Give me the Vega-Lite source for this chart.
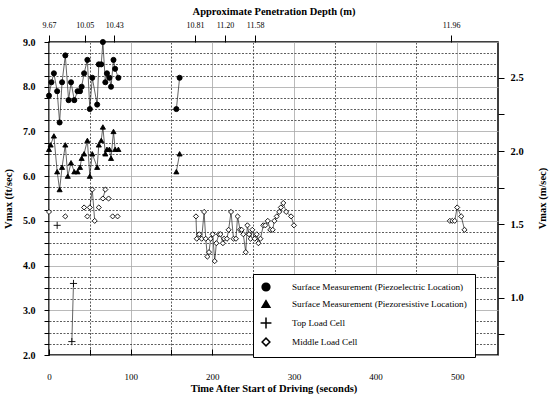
{
 "$schema": "https://vega.github.io/schema/vega-lite/v6.json",
 "width": 449,
 "height": 313,
 "autosize": "none",
 "padding": {"left": 49, "top": 42, "right": 52, "bottom": 41},
 "background": "white",
 "config": {
  "font": "Liberation Serif",
  "view": {"stroke": "black", "strokeWidth": 1.5},
  "axis": {"labelColor": "black", "titleColor": "black", "tickColor": "black", "domain": false, "labelOverlap": false, "labelFlush": false}
 },
 "layer": [
  {
   "data": {"values": [
    {"series": "Surface Measurement (Piezoelectric Location)", "seg": "A1", "t": 0, "v": 7.8},
    {"series": "Surface Measurement (Piezoelectric Location)", "seg": "A1", "t": 3, "v": 8.1},
    {"series": "Surface Measurement (Piezoelectric Location)", "seg": "A1", "t": 6, "v": 8.3},
    {"series": "Surface Measurement (Piezoelectric Location)", "seg": "A1", "t": 10, "v": 7.9},
    {"series": "Surface Measurement (Piezoelectric Location)", "seg": "A1", "t": 13, "v": 7.2},
    {"series": "Surface Measurement (Piezoelectric Location)", "seg": "A1", "t": 16, "v": 8.1},
    {"series": "Surface Measurement (Piezoelectric Location)", "seg": "A1", "t": 20, "v": 8.7},
    {"series": "Surface Measurement (Piezoelectric Location)", "seg": "A1", "t": 24, "v": 7.7},
    {"series": "Surface Measurement (Piezoelectric Location)", "seg": "A1", "t": 27, "v": 8.1},
    {"series": "Surface Measurement (Piezoelectric Location)", "seg": "A1", "t": 31, "v": 7.7},
    {"series": "Surface Measurement (Piezoelectric Location)", "seg": "A1", "t": 35, "v": 7.9},
    {"series": "Surface Measurement (Piezoelectric Location)", "seg": "A1", "t": 38, "v": 7.9},
    {"series": "Surface Measurement (Piezoelectric Location)", "seg": "A1", "t": 40, "v": 8.0},
    {"series": "Surface Measurement (Piezoelectric Location)", "seg": "A1", "t": 43, "v": 8.3},
    {"series": "Surface Measurement (Piezoelectric Location)", "seg": "A1", "t": 47, "v": 8.6},
    {"series": "Surface Measurement (Piezoelectric Location)", "seg": "A1", "t": 50, "v": 7.5},
    {"series": "Surface Measurement (Piezoelectric Location)", "seg": "A1", "t": 53, "v": 8.2},
    {"series": "Surface Measurement (Piezoelectric Location)", "seg": "A1", "t": 59, "v": 7.6},
    {"series": "Surface Measurement (Piezoelectric Location)", "seg": "A1", "t": 61, "v": 8.5},
    {"series": "Surface Measurement (Piezoelectric Location)", "seg": "A1", "t": 64, "v": 8.5},
    {"series": "Surface Measurement (Piezoelectric Location)", "seg": "A1", "t": 66, "v": 9.0},
    {"series": "Surface Measurement (Piezoelectric Location)", "seg": "A1", "t": 69, "v": 8.1},
    {"series": "Surface Measurement (Piezoelectric Location)", "seg": "A1", "t": 71, "v": 8.3},
    {"series": "Surface Measurement (Piezoelectric Location)", "seg": "A1", "t": 74, "v": 8.2},
    {"series": "Surface Measurement (Piezoelectric Location)", "seg": "A1", "t": 76, "v": 8.0},
    {"series": "Surface Measurement (Piezoelectric Location)", "seg": "A1", "t": 79, "v": 8.6},
    {"series": "Surface Measurement (Piezoelectric Location)", "seg": "A1", "t": 81, "v": 8.4},
    {"series": "Surface Measurement (Piezoelectric Location)", "seg": "A1", "t": 85, "v": 8.2},
    {"series": "Surface Measurement (Piezoelectric Location)", "seg": "A2", "t": 156, "v": 7.5},
    {"series": "Surface Measurement (Piezoelectric Location)", "seg": "A2", "t": 160, "v": 8.2},
    {"series": "Surface Measurement (Piezoresistive Location)", "seg": "B1", "t": 0, "v": 6.6},
    {"series": "Surface Measurement (Piezoresistive Location)", "seg": "B1", "t": 2, "v": 6.7},
    {"series": "Surface Measurement (Piezoresistive Location)", "seg": "B1", "t": 6, "v": 6.9},
    {"series": "Surface Measurement (Piezoresistive Location)", "seg": "B1", "t": 10, "v": 6.1},
    {"series": "Surface Measurement (Piezoresistive Location)", "seg": "B1", "t": 13, "v": 5.7},
    {"series": "Surface Measurement (Piezoresistive Location)", "seg": "B1", "t": 16, "v": 6.2},
    {"series": "Surface Measurement (Piezoresistive Location)", "seg": "B1", "t": 20, "v": 6.7},
    {"series": "Surface Measurement (Piezoresistive Location)", "seg": "B1", "t": 23, "v": 6.0},
    {"series": "Surface Measurement (Piezoresistive Location)", "seg": "B1", "t": 27, "v": 6.3},
    {"series": "Surface Measurement (Piezoresistive Location)", "seg": "B1", "t": 31, "v": 6.1},
    {"series": "Surface Measurement (Piezoresistive Location)", "seg": "B1", "t": 35, "v": 6.1},
    {"series": "Surface Measurement (Piezoresistive Location)", "seg": "B1", "t": 38, "v": 6.2},
    {"series": "Surface Measurement (Piezoresistive Location)", "seg": "B1", "t": 40, "v": 6.4},
    {"series": "Surface Measurement (Piezoresistive Location)", "seg": "B1", "t": 43, "v": 6.5},
    {"series": "Surface Measurement (Piezoresistive Location)", "seg": "B1", "t": 47, "v": 6.8},
    {"series": "Surface Measurement (Piezoresistive Location)", "seg": "B1", "t": 50, "v": 6.0},
    {"series": "Surface Measurement (Piezoresistive Location)", "seg": "B1", "t": 53, "v": 6.5},
    {"series": "Surface Measurement (Piezoresistive Location)", "seg": "B1", "t": 59, "v": 6.2},
    {"series": "Surface Measurement (Piezoresistive Location)", "seg": "B1", "t": 61, "v": 6.7},
    {"series": "Surface Measurement (Piezoresistive Location)", "seg": "B1", "t": 64, "v": 6.8},
    {"series": "Surface Measurement (Piezoresistive Location)", "seg": "B1", "t": 66, "v": 7.1},
    {"series": "Surface Measurement (Piezoresistive Location)", "seg": "B1", "t": 69, "v": 6.5},
    {"series": "Surface Measurement (Piezoresistive Location)", "seg": "B1", "t": 71, "v": 6.6},
    {"series": "Surface Measurement (Piezoresistive Location)", "seg": "B1", "t": 74, "v": 6.6},
    {"series": "Surface Measurement (Piezoresistive Location)", "seg": "B1", "t": 76, "v": 6.4},
    {"series": "Surface Measurement (Piezoresistive Location)", "seg": "B1", "t": 79, "v": 7.0},
    {"series": "Surface Measurement (Piezoresistive Location)", "seg": "B1", "t": 81, "v": 6.6},
    {"series": "Surface Measurement (Piezoresistive Location)", "seg": "B1", "t": 85, "v": 6.6},
    {"series": "Surface Measurement (Piezoresistive Location)", "seg": "B2", "t": 156, "v": 6.1},
    {"series": "Surface Measurement (Piezoresistive Location)", "seg": "B2", "t": 160, "v": 6.5},
    {"series": "Top Load Cell", "seg": "C1", "t": 10, "v": 4.9},
    {"series": "Top Load Cell", "seg": "C2", "t": 28, "v": 2.3},
    {"series": "Top Load Cell", "seg": "C2", "t": 30, "v": 3.6},
    {"series": "Middle Load Cell", "seg": "D1", "t": 0, "v": 5.2},
    {"series": "Middle Load Cell", "seg": "D2", "t": 20, "v": 5.1},
    {"series": "Middle Load Cell", "seg": "D3", "t": 43, "v": 5.3},
    {"series": "Middle Load Cell", "seg": "D4", "t": 47, "v": 5.1},
    {"series": "Middle Load Cell", "seg": "D5", "t": 50, "v": 5.3},
    {"series": "Middle Load Cell", "seg": "D5", "t": 53, "v": 5.7},
    {"series": "Middle Load Cell", "seg": "D5", "t": 56, "v": 5.0},
    {"series": "Middle Load Cell", "seg": "D6", "t": 61, "v": 5.3},
    {"series": "Middle Load Cell", "seg": "D7", "t": 66, "v": 5.5},
    {"series": "Middle Load Cell", "seg": "D7", "t": 69, "v": 5.7},
    {"series": "Middle Load Cell", "seg": "D8", "t": 73, "v": 5.5},
    {"series": "Middle Load Cell", "seg": "D9", "t": 78, "v": 5.1},
    {"series": "Middle Load Cell", "seg": "D10", "t": 84, "v": 5.1},
    {"series": "Middle Load Cell", "seg": "E1", "t": 180, "v": 5.1},
    {"series": "Middle Load Cell", "seg": "E1", "t": 181, "v": 4.6},
    {"series": "Middle Load Cell", "seg": "E1", "t": 184, "v": 4.7},
    {"series": "Middle Load Cell", "seg": "E1", "t": 187, "v": 4.6},
    {"series": "Middle Load Cell", "seg": "E1", "t": 190, "v": 5.2},
    {"series": "Middle Load Cell", "seg": "E1", "t": 192, "v": 4.6},
    {"series": "Middle Load Cell", "seg": "E1", "t": 194, "v": 4.2},
    {"series": "Middle Load Cell", "seg": "E1", "t": 196, "v": 4.3},
    {"series": "Middle Load Cell", "seg": "E1", "t": 198, "v": 4.6},
    {"series": "Middle Load Cell", "seg": "E1", "t": 200.5, "v": 4.7},
    {"series": "Middle Load Cell", "seg": "E1", "t": 203, "v": 4.1},
    {"series": "Middle Load Cell", "seg": "E1", "t": 205, "v": 4.5},
    {"series": "Middle Load Cell", "seg": "E1", "t": 208, "v": 4.7},
    {"series": "Middle Load Cell", "seg": "E1", "t": 210, "v": 4.7},
    {"series": "Middle Load Cell", "seg": "E1", "t": 213, "v": 4.5},
    {"series": "Middle Load Cell", "seg": "E1", "t": 214.5, "v": 4.6},
    {"series": "Middle Load Cell", "seg": "E1", "t": 218, "v": 4.6},
    {"series": "Middle Load Cell", "seg": "E1", "t": 220, "v": 4.8},
    {"series": "Middle Load Cell", "seg": "E1", "t": 223, "v": 5.2},
    {"series": "Middle Load Cell", "seg": "E1", "t": 226, "v": 4.6},
    {"series": "Middle Load Cell", "seg": "E1", "t": 229, "v": 4.6},
    {"series": "Middle Load Cell", "seg": "E1", "t": 231, "v": 5.1},
    {"series": "Middle Load Cell", "seg": "E1", "t": 234, "v": 4.8},
    {"series": "Middle Load Cell", "seg": "E1", "t": 236, "v": 4.8},
    {"series": "Middle Load Cell", "seg": "E1", "t": 238, "v": 4.7},
    {"series": "Middle Load Cell", "seg": "E1", "t": 241, "v": 4.3},
    {"series": "Middle Load Cell", "seg": "E1", "t": 243, "v": 4.9},
    {"series": "Middle Load Cell", "seg": "E1", "t": 245, "v": 4.7},
    {"series": "Middle Load Cell", "seg": "E1", "t": 247, "v": 4.6},
    {"series": "Middle Load Cell", "seg": "E1", "t": 249, "v": 4.8},
    {"series": "Middle Load Cell", "seg": "E1", "t": 252, "v": 4.6},
    {"series": "Middle Load Cell", "seg": "E1", "t": 254.5, "v": 4.7},
    {"series": "Middle Load Cell", "seg": "E1", "t": 256.5, "v": 4.5},
    {"series": "Middle Load Cell", "seg": "E1", "t": 259, "v": 4.6},
    {"series": "Middle Load Cell", "seg": "E1", "t": 262.5, "v": 4.9},
    {"series": "Middle Load Cell", "seg": "E1", "t": 265, "v": 4.9},
    {"series": "Middle Load Cell", "seg": "E1", "t": 268, "v": 5.0},
    {"series": "Middle Load Cell", "seg": "E1", "t": 271, "v": 4.8},
    {"series": "Middle Load Cell", "seg": "E1", "t": 274, "v": 4.8},
    {"series": "Middle Load Cell", "seg": "E1", "t": 276, "v": 5.0},
    {"series": "Middle Load Cell", "seg": "E1", "t": 279, "v": 5.1},
    {"series": "Middle Load Cell", "seg": "E1", "t": 282, "v": 5.2},
    {"series": "Middle Load Cell", "seg": "E1", "t": 284, "v": 5.3},
    {"series": "Middle Load Cell", "seg": "E1", "t": 287, "v": 5.4},
    {"series": "Middle Load Cell", "seg": "E1", "t": 290.5, "v": 5.2},
    {"series": "Middle Load Cell", "seg": "E1", "t": 296.5, "v": 5.1},
    {"series": "Middle Load Cell", "seg": "E1", "t": 300, "v": 4.9},
    {"series": "Middle Load Cell", "seg": "F1", "t": 491, "v": 5.0},
    {"series": "Middle Load Cell", "seg": "F1", "t": 494, "v": 5.0},
    {"series": "Middle Load Cell", "seg": "F1", "t": 497, "v": 5.0},
    {"series": "Middle Load Cell", "seg": "F1", "t": 500, "v": 5.3},
    {"series": "Middle Load Cell", "seg": "F1", "t": 505, "v": 5.1},
    {"series": "Middle Load Cell", "seg": "F1", "t": 509, "v": 4.8}
   ]},
   "encoding": {
    "x": {"field": "t", "type": "quantitative", "scale": {"domain": [0, 550], "nice": false, "zero": false},
     "axis": {
      "title": "Time After Start of Driving (seconds)",
      "values": [0, 50, 100, 150, 200, 250, 300, 350, 400, 450, 500],
      "labelExpr": "datum.value % 100 == 0 ? datum.value : ''",
      "tickSize": -6, "labelPadding": 23, "labelFontSize": 9,
      "titleFontSize": 10.5, "titleFontWeight": "bold", "titlePadding": 2,
      "grid": true,
      "gridColor": {"condition": {"test": "datum.value % 100 == 0", "value": "#a8a8a8"}, "value": "#333"},
      "gridDash": {"condition": {"test": "datum.value % 100 == 0", "value": []}, "value": [2, 1.5]},
      "gridWidth": 0.8
     }},
    "y": {"field": "v", "type": "quantitative", "scale": {"domain": [2, 9], "nice": false, "zero": false},
     "axis": {
      "title": "Vmax (ft/sec)",
      "values": [2, 2.25, 2.5, 2.75, 3, 3.25, 3.5, 3.75, 4, 4.25, 4.5, 4.75, 5, 5.25, 5.5, 5.75, 6, 6.25, 6.5, 6.75, 7, 7.25, 7.5, 7.75, 8, 8.25, 8.5, 8.75, 9],
      "labelExpr": "datum.value % 1 == 0 ? format(datum.value, '.1f') : ''",
      "tickSize": 5, "labelPadding": 9, "labelFontSize": 10, "labelFontWeight": "bold",
      "titleFontSize": 10.5, "titleFontWeight": "bold", "titlePadding": 9,
      "grid": true,
      "gridColor": {"condition": {"test": "datum.value % 1 == 0", "value": "#a8a8a8"}, "value": "#333"},
      "gridDash": {"condition": {"test": "datum.value % 1 == 0", "value": []}, "value": [2, 1.5]},
      "gridWidth": 0.8
     }}
   },
   "layer": [
    {
     "mark": {"type": "line", "color": "#222", "strokeWidth": 0.7},
     "encoding": {"detail": {"field": "seg", "type": "nominal"}}
    },
    {
     "mark": {"type": "point", "filled": true, "strokeWidth": 0.9, "size": 26, "opacity": 1},
     "encoding": {
      "shape": {"field": "series", "type": "nominal",
       "scale": {"domain": ["Surface Measurement (Piezoelectric Location)", "Surface Measurement (Piezoresistive Location)", "Top Load Cell", "Middle Load Cell"],
        "range": ["circle", "triangle-up", "M-1.4,0H1.4M0,-1.4V1.4", "diamond"]},
       "legend": {"orient": "none", "legendX": 204, "legendY": 232, "title": null, "strokeColor": "black", "fillColor": "white", "padding": 8, "symbolSize": 60, "labelFontSize": 9.2, "labelColor": "black", "labelLimit": 400, "rowPadding": 3, "labelOffset": 21}},
      "fill": {"field": "series", "type": "nominal",
       "scale": {"domain": ["Surface Measurement (Piezoelectric Location)", "Surface Measurement (Piezoresistive Location)", "Top Load Cell", "Middle Load Cell"],
        "range": ["black", "black", "black", "white"]},
       "legend": {"orient": "none", "legendX": 204, "legendY": 232, "title": null, "strokeColor": "black", "fillColor": "white", "padding": 8, "symbolSize": 60, "labelFontSize": 9.2, "labelColor": "black", "labelLimit": 400, "rowPadding": 3, "labelOffset": 21}},
      "stroke": {"field": "series", "type": "nominal",
       "scale": {"domain": ["Surface Measurement (Piezoelectric Location)", "Surface Measurement (Piezoresistive Location)", "Top Load Cell", "Middle Load Cell"],
        "range": ["black", "black", "black", "black"]},
       "legend": {"orient": "none", "legendX": 204, "legendY": 232, "title": null, "strokeColor": "black", "fillColor": "white", "padding": 8, "symbolSize": 60, "labelFontSize": 9.2, "labelColor": "black", "labelLimit": 400, "rowPadding": 3, "labelOffset": 21}}
     }
    },
    {
     "data": {"values": [{}]},
     "mark": {"type": "rect", "fill": "white", "stroke": "#555", "strokeWidth": 0.8},
     "encoding": {
      "x": {"datum": 297.4, "type": "quantitative"},
      "x2": {"datum": 503},
      "y": {"datum": 8.476, "type": "quantitative"},
      "y2": {"datum": 7.537}
     }
    },
    {
     "data": {"values": [{}]},
     "mark": {"type": "text", "align": "left", "baseline": "middle", "fontSize": 8.6, "color": "black"},
     "encoding": {
      "x": {"datum": 309.7, "type": "quantitative"},
      "y": {"datum": 8.16, "type": "quantitative"},
      "text": {"value": "NOTE:"}
     }
    },
    {
     "data": {"values": [{}]},
     "mark": {"type": "text", "align": "left", "baseline": "middle", "fontSize": 8.6, "color": "black"},
     "encoding": {
      "x": {"datum": 347.7, "type": "quantitative"},
      "y": {"datum": 8.16, "type": "quantitative"},
      "text": {"value": "Only velocities recorded between"}
     }
    },
    {
     "data": {"values": [{}]},
     "mark": {"type": "text", "align": "left", "baseline": "middle", "fontSize": 8.6, "color": "black"},
     "encoding": {
      "x": {"datum": 347.7, "type": "quantitative"},
      "y": {"datum": 7.93, "type": "quantitative"},
      "text": {"value": "0.305 and 2.743 m/s (1 and 9 ft/s)"}
     }
    },
    {
     "data": {"values": [{}]},
     "mark": {"type": "text", "align": "left", "baseline": "middle", "fontSize": 8.6, "color": "black"},
     "encoding": {
      "x": {"datum": 347.7, "type": "quantitative"},
      "y": {"datum": 7.72, "type": "quantitative"},
      "text": {"value": "are shown."}
     }
    }
   ]
  },
  {
   "data": {"values": [{}]},
   "mark": {"type": "point", "opacity": 0},
   "encoding": {
    "x": {"datum": 0, "type": "quantitative", "scale": {"domain": [0, 550], "nice": false, "zero": false},
     "axis": {
      "title": "Approximate Penetration Depth (m)",
      "orient": "top",
      "values": [0, 43.8, 79.8, 178.8, 215.6, 252.4, 492.5],
      "labelExpr": "datum.value < 10 ? '9.67' : datum.value < 60 ? '10.05' : datum.value < 100 ? '10.43' : datum.value < 200 ? '10.81' : datum.value < 230 ? '11.20' : datum.value < 300 ? '11.58' : '11.96'",
      "tickSize": 7, "labelPadding": 6, "labelFontSize": 8,
      "titleFontSize": 10.5, "titleFontWeight": "bold", "titlePadding": 5,
      "grid": false
     }},
    "y": {"datum": 1, "type": "quantitative", "scale": {"domain": [0.6096, 2.7432], "nice": false, "zero": false},
     "axis": {
      "title": "Vmax (m/sec)",
      "orient": "right",
      "values": [0.75, 1, 1.25, 1.5, 1.75, 2, 2.25, 2.5],
      "labelExpr": "datum.value % 0.5 == 0 ? format(datum.value, '.1f') : ''",
      "tickSize": 6, "labelPadding": 6, "labelFontSize": 10.5, "labelFontWeight": "bold",
      "titleFontSize": 10.5, "titleFontWeight": "bold", "titleAngle": 270,
      "titleX": 44, "titleY": 156, "titleAlign": "center", "titleBaseline": "middle",
      "grid": false
     }}
   }
  }
 ],
 "resolve": {"scale": {"x": "independent", "y": "independent"}}
}
